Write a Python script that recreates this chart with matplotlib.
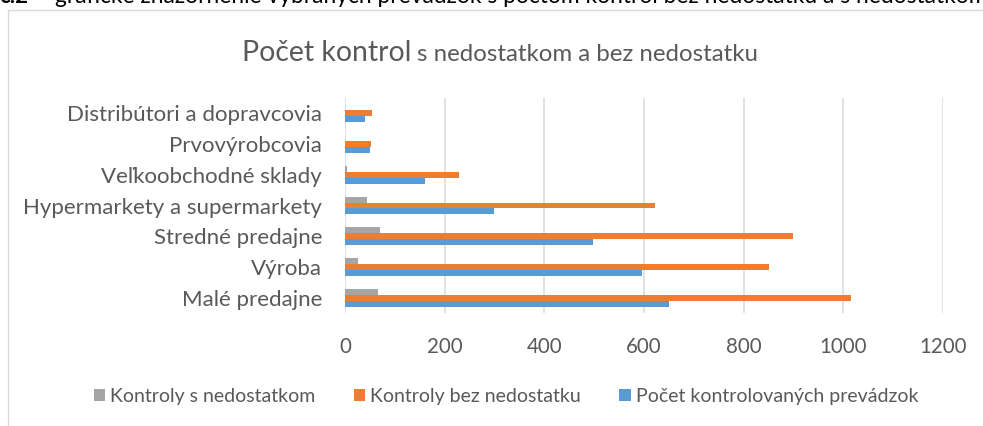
import matplotlib
matplotlib.use("Agg")
import matplotlib.pyplot as plt
import numpy as np
from matplotlib.patches import Rectangle

plt.rcParams['font.family'] = ['Lato', 'DejaVu Sans']

categories = ["Malé predajne", "Výroba", "Stredné predajne",
              "Hypermarkety a supermarkety", "Veľkoobchodné sklady",
              "Prvovýrobcovia", "Distribútori a dopravcovia"]
s_nedostatkom = [66, 26, 71, 44, 5, 0, 0]
bez_nedostatku = [1016, 851, 898, 623, 229, 52, 54]
pocet_prevadzok = [650, 596, 498, 299, 161, 50, 41]
series_names = ["Kontroly s nedostatkom", "Kontroly bez nedostatku",
                "Počet kontrolovaných prevádzok"]
xticks = [0, 200, 400, 600, 800, 1000, 1200]

W, H = 983, 426
fig = plt.figure(figsize=(W / 100, H / 100), dpi=100)
TXT = "#595959"
GRID = "#d9d9d9"

# chart border
fig.patches.append(Rectangle((8 / W, -0.1), 1.2, 1 - 10 / H + 0.1,
                             transform=fig.transFigure, fill=False,
                             edgecolor=GRID, lw=1.0))

ax = fig.add_axes([345 / W, 1 - 313.1 / H, 598 / W, (313.1 - 97.9) / H])
y = np.arange(len(categories))
h = 0.195
b1 = ax.barh(y + h, s_nedostatkom, height=h, color="#A5A5A5", label=series_names[0], zorder=3)
b2 = ax.barh(y, bez_nedostatku, height=h, color="#ED7D31", label=series_names[1], zorder=3)
b3 = ax.barh(y - h, pocet_prevadzok, height=h, color="#5B9BD5", label=series_names[2], zorder=3)

ax.set_xlim(0, 1200)
ax.set_ylim(-0.5, len(categories) - 0.5)
ax.set_xticks(xticks)
ax.set_yticks(y)
ax.set_yticklabels(categories)
for s in ax.spines.values():
    s.set_visible(False)
ax.grid(axis='x', color=GRID, lw=1.1, zorder=0)
ax.tick_params(axis='x', length=0, pad=17, labelsize=14.8, labelcolor=TXT)
ax.tick_params(axis='y', length=0, pad=16.5, labelsize=16, labelcolor=TXT)

# title in two sizes
t1 = fig.text(0, 1 - 61 / H, "Počet kontrol", fontsize=20.4, color=TXT, ha='left', va='baseline')
t2 = fig.text(0, 1 - 61 / H, "s nedostatkom a bez nedostatku", fontsize=17.3, color=TXT, ha='left', va='baseline')
fig.canvas.draw()
r = fig.canvas.get_renderer()
w1 = t1.get_window_extent(r).width
w2 = t2.get_window_extent(r).width
gap = 6
total = w1 + gap + w2
x0 = 500 - total / 2
t1.set_x(x0 / W)
t2.set_x((x0 + w1 + gap) / W)

# caption fragment cut at top (as in the reference screenshot)
fig.text(28 / W, 1 - 3 / H, "č.2", fontsize=16, color="black", ha='right', va='baseline', fontweight='bold')
fig.text(55 / W, 1 - 3 / H,
         "grafické znázornenie vybraných prevádzok s počtom kontrol bez nedostatku a s nedostatkom",
         fontsize=16.4, color="black", ha='left', va='baseline')

leg = fig.legend(handles=[b1, b2, b3], loc='center', bbox_to_anchor=(506 / W, 1 - 396.5 / H),
                 ncol=3, frameon=False, fontsize=14, labelcolor=TXT,
                 handlelength=0.6, handleheight=0.6, handletextpad=0.26,
                 columnspacing=1.95, borderpad=0)

fig.savefig("out.png", dpi=100)
